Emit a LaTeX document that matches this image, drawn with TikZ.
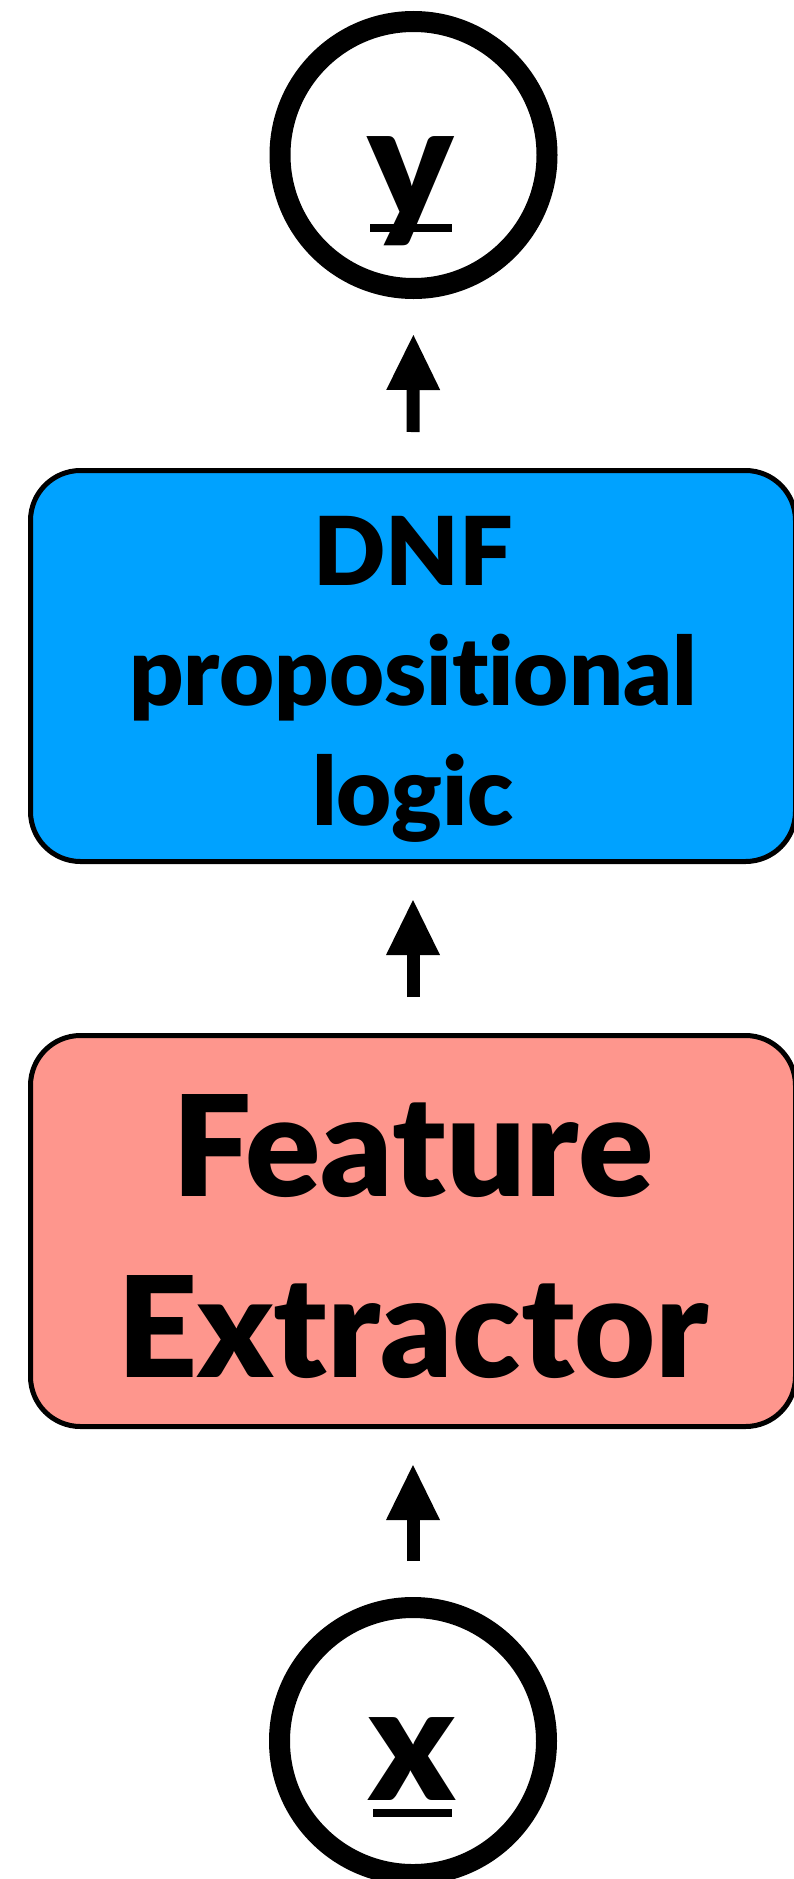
\documentclass[tikz,border=0pt]{standalone}
\usepackage{fontspec}
\setmainfont{Lato}[UprightFont=* Black, Ligatures={NoCommon}]
\usetikzlibrary{arrows.meta}
\definecolor{logicblue}{HTML}{00A2FF}
\definecolor{featsalmon}{HTML}{FE968D}
\tikzset{
  varcircle/.style={circle, draw=black, line width=21pt, fill=white,
    minimum size=267pt, inner sep=0pt},
  stagebox/.style={rectangle, rounded corners=50pt, draw=black, line width=5pt,
    minimum width=765pt, minimum height=391pt, inner sep=0pt},
  stagetext/.style={inner sep=0pt, align=center},
  varletter/.style={anchor=base, inner sep=0pt, font=\fontsize{160}{160}\selectfont},
  underbar/.style={line width=8pt},
  flow/.style={line width=13pt, -{Triangle[width=54pt,length=55pt,line width=0pt]},
    shorten >=36pt, shorten <=36pt},
}
\begin{document}
\begin{tikzpicture}[x=1pt, y=-1pt]
  \useasboundingbox (0,0) rectangle (794,1879);

  % output variable
  \node[varcircle] (yc) at (413.5,155) {};
  \node[varletter] (yl) at (411,219) {y};
  \coordinate (yu1) at (370,228);
  \coordinate (yu2) at (452,228);
  \draw[underbar] (yu1) -- (yu2);

  % logic layer
  \node[stagebox, fill=logicblue] (dnf) at (413,666) {};
  \node[stagetext, font=\fontsize{95}{120}\selectfont] (dnftext)
    at ([yshift=-13pt]dnf.center) {DNF\\propositional\\logic};

  % feature extractor
  \node[stagebox, fill=featsalmon] (fe) at (413,1231) {};
  \node[stagetext, font=\fontsize{140}{181}\selectfont] (fetext)
    at ([yshift=-6pt]fe.center) {Feature\\Extractor};

  % input variable
  \node[varcircle] (xc) at (413,1741) {};
  \node[varletter] (xl) at (412.5,1800) {x};
  \coordinate (xu1) at (373,1813);
  \coordinate (xu2) at (452,1813);
  \draw[underbar] (xu1) -- (xu2);

  % data flow
  \draw[flow] (xc.north) -- (fe.south);
  \draw[flow] (fe.north) -- (dnf.south);
  \draw[flow] (dnf.north) -- (yc.south);
\end{tikzpicture}
\end{document}
